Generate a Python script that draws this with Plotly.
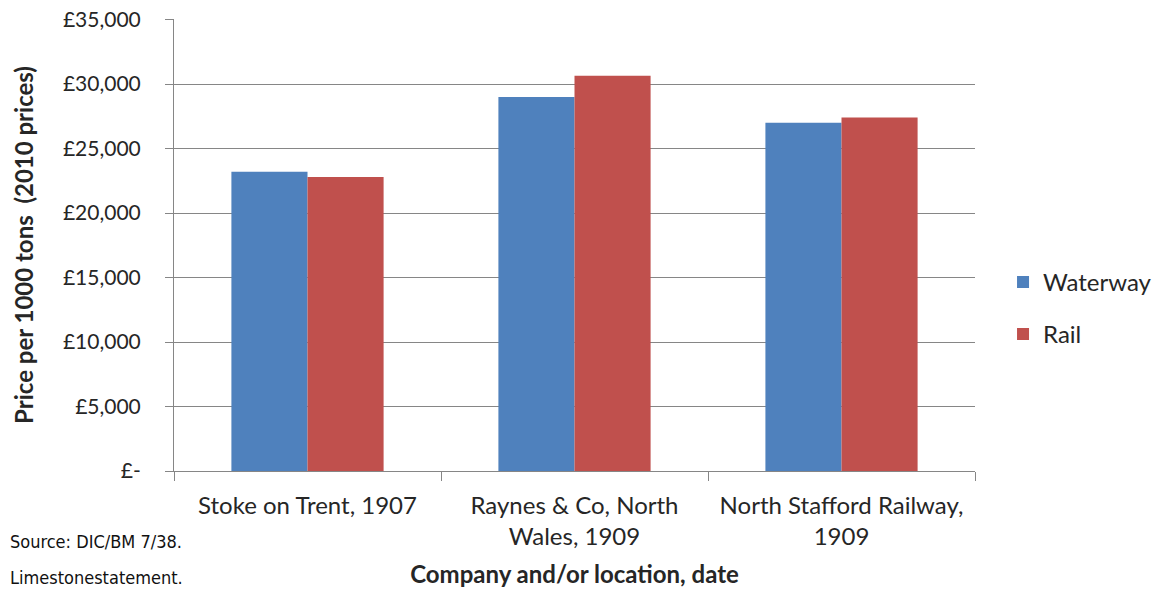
import plotly.graph_objects as go

categories = ["Stoke on Trent, 1907", "Raynes & Co, North<br>Wales, 1909", "North Stafford Railway,<br>1909"]
waterway = [23200, 29000, 27000]
rail = [22800, 30650, 27400]
tick_vals = [0, 5000, 10000, 15000, 20000, 25000, 30000, 35000]
tick_text = ["£-", "£5,000", "£10,000", "£15,000", "£20,000", "£25,000", "£30,000", "£35,000"]

FONT = "Lato, Open Sans, sans-serif"
GRAY = "#868686"

fig = go.Figure()
fig.add_trace(go.Bar(x=categories, y=waterway, name="Waterway", marker_color="#4F81BD",
                     marker_line_width=0, legendgroup="a"))
fig.add_trace(go.Bar(x=categories, y=rail, name="Rail", marker_color="#C0504D",
                     marker_line_width=0, legendgroup="b"))

# page has an 8px body margin; figure sized so plot area lands where the reference has it
fig.update_layout(
    width=1147, height=580,
    margin=dict(l=166, r=180, t=11, b=117, autoexpand=False),
    paper_bgcolor="white", plot_bgcolor="white",
    barmode="group", bargap=0.43, bargroupgap=0,
    font=dict(family=FONT, size=21, color="#262626"),
    legend=dict(x=1.035, y=0.36, xanchor="left", yanchor="middle",
                traceorder="grouped", tracegroupgap=18,
                font=dict(size=24, family=FONT, color="#262626")),
    xaxis=dict(showline=True, linecolor=GRAY, linewidth=1, automargin=False,
               ticks="outside", tickson="boundaries", ticklen=9, tickcolor=GRAY,
               ticklabelstandoff=13,
               tickfont=dict(size=24),
               title=dict(text="<b>Company and/or location, date</b>", font=dict(size=24), standoff=21)),
    yaxis=dict(range=[0, 35040], tickvals=tick_vals, ticktext=tick_text, automargin=False,
               showline=True, linecolor=GRAY, linewidth=1,
               showgrid=True, gridcolor=GRAY, gridwidth=1, zeroline=False,
               ticks="outside", ticklen=8, tickcolor=GRAY,
               ticklabelstandoff=20, ticklabeloverflow="allow",
               tickfont=dict(size=21),
               title=dict(text="<b>Price per 1000 tons  (2010 prices)</b>", font=dict(size=24), standoff=22)),
)

note_font = dict(size=18, family="DejaVu Sans Condensed, sans-serif", color="#111")
fig.add_annotation(text="Source: DIC/BM 7/38.", xref="paper", yref="paper",
                   x=-166/801, y=-(541-471)/452, xanchor="left", yanchor="middle",
                   showarrow=False, font=note_font)
fig.add_annotation(text="Limestonestatement.", xref="paper", yref="paper",
                   x=-166/801, y=-(577-471)/452, xanchor="left", yanchor="middle",
                   showarrow=False, font=note_font)

fig.write_html("out.html")
